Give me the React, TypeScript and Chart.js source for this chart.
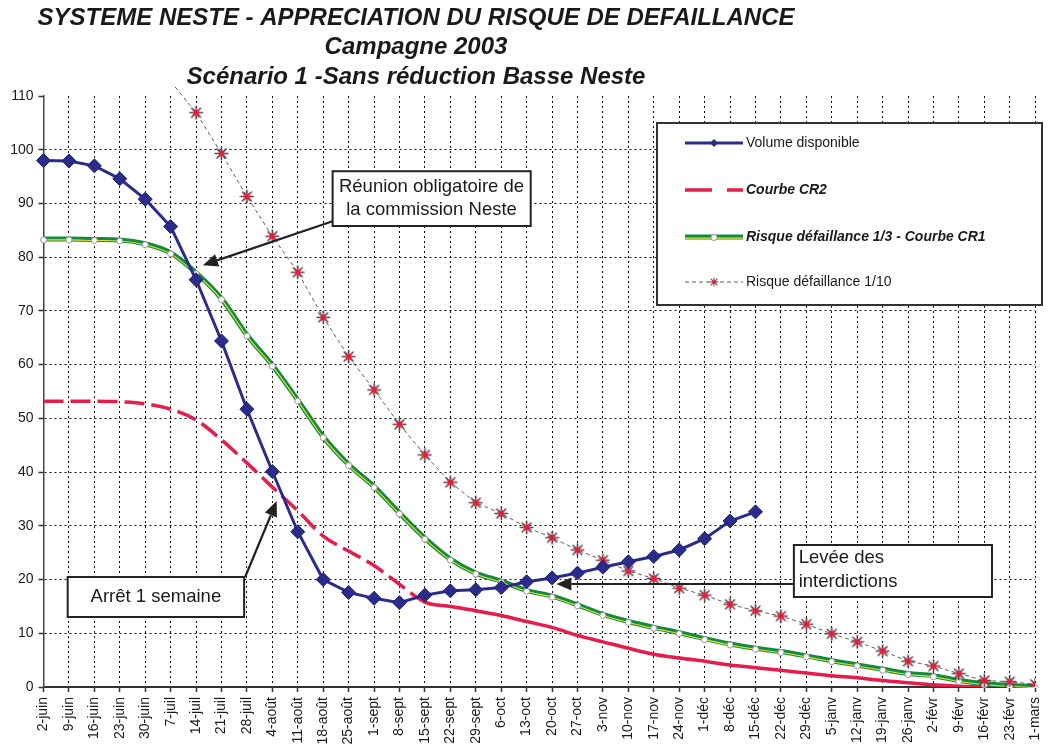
import React, { useEffect, useRef } from 'react';
import { Chart, registerables } from 'chart.js';

Chart.register(...registerables);

// ---------------- DATA ----------------
const categories = [
  '2-juin', '9-juin', '16-juin', '23-juin', '30-juin', '7-juil', '14-juil', '21-juil', '28-juil', '4-août',
  '11-août', '18-août', '25-août', '1-sept', '8-sept', '15-sept', '22-sept', '29-sept', '6-oct', '13-oct',
  '20-oct', '27-oct', '3-nov', '10-nov', '17-nov', '24-nov', '1-déc', '8-déc', '15-déc', '22-déc',
  '29-déc', '5-janv', '12-janv', '19-janv', '26-janv', '2-févr', '9-févr', '16-févr', '23-févr', '1-mars',
];

const volumeDisponible = [
  98.0, 97.9, 97.0, 94.6, 90.8, 85.7, 75.8, 64.4, 51.7, 40.1,
  28.9, 20.0, 17.6, 16.5, 15.7, 17.1, 17.9, 18.1, 18.5, 19.6,
  20.3, 21.2, 22.3, 23.3, 24.3, 25.5, 27.6, 30.9, 32.6, null,
  null, null, null, null, null, null, null, null, null, null,
];

const courbeCR2 = [
  53.2, 53.2, 53.2, 53.1, 52.7, 51.7, 49.7, 46.0, 41.7, 37.2,
  32.8, 28.1, 25.3, 22.6, 19.1, 15.8, 15.0, 14.2, 13.3, 12.2,
  11.1, 9.6, 8.4, 7.2, 6.1, 5.4, 4.8, 4.1, 3.6, 3.1,
  2.6, 2.1, 1.7, 1.2, 0.8, 0.4, 0.15, 0.05, 0, 0,
];

const courbeCR1 = [
  83.4, 83.4, 83.3, 83.2, 82.5, 80.8, 77.1, 72.3, 65.5, 59.9,
  53.4, 46.6, 41.4, 37.3, 32.4, 27.7, 23.8, 21.2, 19.7, 18.0,
  16.9, 15.3, 13.5, 12.2, 11.1, 10.1, 9.0, 8.0, 7.2, 6.6,
  5.8, 4.9, 4.1, 3.3, 2.5, 2.1, 1.2, 0.6, 0.3, 0.05,
];

const risque110 = [
  null, null, null, null, null, 112.7, 106.9, 99.3, 91.3, 83.9,
  77.2, 68.8, 61.5, 55.3, 48.9, 43.2, 38.1, 34.3, 32.3, 29.7,
  27.8, 25.5, 23.6, 21.6, 20.2, 18.4, 17.1, 15.4, 14.2, 13.2,
  11.7, 9.9, 8.4, 6.7, 4.8, 3.9, 2.5, 1.2, 1.0, 0.5,
];

const yMin = 0;
const yMax = 110;
const yStep = 10;

const seriesNames = [
  'Volume disponible',
  'Courbe CR2',
  'Risque défaillance 1/3 - Courbe CR1',
  'Risque défaillance 1/10',
];

const titleLines = [
  'SYSTEME NESTE - APPRECIATION DU RISQUE DE DEFAILLANCE',
  'Campagne 2003',
  'Scénario 1 -Sans réduction Basse Neste',
];

// annotations in data coordinates (category index, value)
const notes = [
  {
    lines: ['Réunion obligatoire de', 'la commission Neste'],
    box: [11.37, 96.0, 19.16, 85.8],
    textX: 15.26, textY: [93.0, 88.8], align: 'center',
    arrow: [11.37, 86.7, 6.27, 78.5],
  },
  {
    lines: ['Arrêt 1 semaine'],
    box: [0.95, 20.47, 7.89, 13.03],
    textX: 4.42, textY: [16.75], align: 'center',
    arrow: [7.93, 20.47, 9.17, 34.6],
  },
  {
    lines: ['Levée des', 'interdictions'],
    box: [29.51, 26.43, 37.3, 16.75],
    textX: 29.7, textY: [24.0, 19.55], align: 'left',
    arrow: [29.51, 19.17, 20.17, 19.17],
  },
];

// ---------------- STYLE ----------------
const FONT = '"Liberation Sans", Arial, Helvetica, sans-serif';
const BLUE = '#2b2b8c';
const RED = '#e61c4a';
const GREEN = '#138a3e';
const YELLOW = '#e6e23c';
const GRAY = '#5e5e5e';

function makeStar(): HTMLCanvasElement {
  const c = document.createElement('canvas');
  c.width = 15;
  c.height = 15;
  const g = c.getContext('2d')!;
  const cx = 7.5, cy = 7.5;
  const draw = (r: number, color: string, w: number) => {
    g.strokeStyle = color;
    g.lineWidth = w;
    g.lineCap = 'round';
    g.beginPath();
    for (let k = 0; k < 4; k++) {
      const a = (k * Math.PI) / 4;
      g.moveTo(cx - Math.cos(a) * r, cy - Math.sin(a) * r);
      g.lineTo(cx + Math.cos(a) * r, cy + Math.sin(a) * r);
    }
    g.stroke();
  };
  draw(6.3, '#54464e', 1.6);
  draw(3, '#e0203a', 1.7);
  return c;
}

function drawArrow(ctx: CanvasRenderingContext2D, x1: number, y1: number, x2: number, y2: number) {
  const ang = Math.atan2(y2 - y1, x2 - x1);
  const hl = 15, hw = 6.5;
  const bx = x2 - Math.cos(ang) * hl;
  const by = y2 - Math.sin(ang) * hl;
  ctx.save();
  ctx.strokeStyle = '#222';
  ctx.fillStyle = '#222';
  ctx.lineWidth = 2.2;
  ctx.beginPath();
  ctx.moveTo(x1, y1);
  ctx.lineTo(bx, by);
  ctx.stroke();
  ctx.beginPath();
  ctx.moveTo(x2, y2);
  ctx.lineTo(bx - Math.sin(ang) * hw, by + Math.cos(ang) * hw);
  ctx.lineTo(bx + Math.sin(ang) * hw, by - Math.cos(ang) * hw);
  ctx.closePath();
  ctx.fill();
  ctx.restore();
}

export default function App() {
  const ref = useRef<HTMLCanvasElement | null>(null);

  useEffect(() => {
    if (!ref.current) return;
    const star = makeStar();

    const titlePlugin = {
      id: 'customTitle',
      afterDraw(chart: any) {
        const ctx = chart.ctx as CanvasRenderingContext2D;
        ctx.save();
        ctx.fillStyle = '#1a1a1a';
        ctx.textAlign = 'center';
        ctx.textBaseline = 'middle';
        ctx.font = `italic bold 24px ${FONT}`;
        const ys = [18, 47, 77];
        titleLines.forEach((t, i) => ctx.fillText(t, 416, ys[i]));
        ctx.restore();
      },
    };

    const yellowShift = {
      id: 'yellowShift',
      beforeDatasetDraw(chart: any, args: any) {
        if (args.index === 2) {
          chart.ctx.save();
          chart.ctx.translate(0, 1.0);
        }
      },
      afterDatasetDraw(chart: any, args: any) {
        if (args.index === 2) chart.ctx.restore();
      },
    };

    const overlay = {
      id: 'overlay',
      afterDraw(chart: any) {
        const ctx = chart.ctx as CanvasRenderingContext2D;
        const xs = chart.scales.x;
        const ys = chart.scales.y;
        const X = (v: number) => xs.getPixelForValue(v);
        const Y = (v: number) => ys.getPixelForValue(v);

        // annotations
        notes.forEach((n) => {
          drawArrow(ctx, X(n.arrow[0]), Y(n.arrow[1]), X(n.arrow[2]), Y(n.arrow[3]));
          const l = X(n.box[0]), t = Y(n.box[1]), r = X(n.box[2]), b = Y(n.box[3]);
          ctx.save();
          ctx.fillStyle = '#fff';
          ctx.fillRect(l, t, r - l, b - t);
          ctx.strokeStyle = '#222';
          ctx.lineWidth = 2;
          ctx.strokeRect(l, t, r - l, b - t);
          ctx.fillStyle = '#1a1a1a';
          ctx.font = `18.5px ${FONT}`;
          ctx.textAlign = n.align as CanvasTextAlign;
          ctx.textBaseline = 'middle';
          n.lines.forEach((s, i) => ctx.fillText(s, X(n.textX), Y(n.textY[i])));
          ctx.restore();
        });

        // legend
        ctx.save();
        const L = 657, T = 123, R = 1042, B = 305;
        ctx.fillStyle = '#fff';
        ctx.fillRect(L, T, R - L, B - T);
        ctx.strokeStyle = '#333';
        ctx.lineWidth = 2;
        ctx.strokeRect(L, T, R - L, B - T);
        const rows = [143, 190, 237, 282];
        const sx1 = 685, sx2 = 743, sm = 714;
        // 1 Volume
        ctx.strokeStyle = BLUE;
        ctx.lineWidth = 3;
        ctx.beginPath(); ctx.moveTo(sx1, rows[0]); ctx.lineTo(sx2, rows[0]); ctx.stroke();
        ctx.fillStyle = BLUE;
        ctx.beginPath();
        ctx.moveTo(sm, rows[0] - 4); ctx.lineTo(sm + 4, rows[0]); ctx.lineTo(sm, rows[0] + 4); ctx.lineTo(sm - 4, rows[0]);
        ctx.closePath(); ctx.fill();
        // 2 CR2
        ctx.strokeStyle = RED;
        ctx.lineWidth = 3.5;
        ctx.beginPath(); ctx.moveTo(sx1, rows[1]); ctx.lineTo(712, rows[1]);
        ctx.moveTo(727, rows[1]); ctx.lineTo(sx2, rows[1]); ctx.stroke();
        // 3 CR1
        ctx.strokeStyle = GREEN;
        ctx.lineWidth = 5;
        ctx.beginPath(); ctx.moveTo(sx1, rows[2]); ctx.lineTo(sx2, rows[2]); ctx.stroke();
        ctx.strokeStyle = YELLOW;
        ctx.lineWidth = 1.2;
        ctx.beginPath(); ctx.moveTo(sx1, rows[2] + 1.2); ctx.lineTo(sx2, rows[2] + 1.2); ctx.stroke();
        ctx.fillStyle = '#fff';
        ctx.strokeStyle = '#999';
        ctx.lineWidth = 1;
        ctx.beginPath(); ctx.arc(sm, rows[2] + 0.5, 3, 0, Math.PI * 2); ctx.fill(); ctx.stroke();
        // 4 1/10
        ctx.strokeStyle = GRAY;
        ctx.lineWidth = 1;
        ctx.setLineDash([4, 3]);
        ctx.beginPath(); ctx.moveTo(sx1, rows[3]); ctx.lineTo(sx2, rows[3]); ctx.stroke();
        ctx.setLineDash([]);
        ctx.drawImage(star, sm - 5, rows[3] - 5, 10, 10);
        // texts
        ctx.fillStyle = '#1a1a1a';
        ctx.textAlign = 'left';
        ctx.textBaseline = 'middle';
        const fonts = [`14px ${FONT}`, `italic bold 14px ${FONT}`, `italic bold 14px ${FONT}`, `14px ${FONT}`];
        seriesNames.forEach((s, i) => {
          ctx.font = fonts[i];
          ctx.fillText(s, 746, rows[i]);
        });
        ctx.restore();
      },
    };

    const chart = new Chart(ref.current, {
      type: 'line',
      data: {
        labels: categories,
        datasets: [
          {
            label: seriesNames[0],
            data: volumeDisponible,
            borderColor: BLUE,
            backgroundColor: BLUE,
            borderWidth: 3,
            pointStyle: 'rectRot',
            pointRadius: 7,
            pointBackgroundColor: BLUE,
            pointBorderColor: '#1e1e70',
            pointBorderWidth: 1,
            spanGaps: false,
            order: 0,
          },
          {
            label: seriesNames[3],
            data: risque110,
            borderColor: GRAY,
            borderWidth: 1,
            borderDash: [4, 3],
            pointStyle: star,
            pointRadius: 6,
            order: 1,
            clip: { left: 0, top: 10, right: 0, bottom: 0 },
          },
          {
            label: 'cr1-inner',
            data: courbeCR1,
            borderColor: YELLOW,
            borderWidth: 1.1,
            pointStyle: 'circle',
            pointRadius: 3,
            pointBackgroundColor: '#ffffff',
            pointBorderColor: '#9a9a9a',
            pointBorderWidth: 1,
            cubicInterpolationMode: 'monotone',
            order: 2,
          },
          {
            label: seriesNames[2],
            data: courbeCR1,
            borderColor: GREEN,
            borderWidth: 5,
            pointRadius: 0,
            cubicInterpolationMode: 'monotone',
            order: 3,
          },
          {
            label: seriesNames[1],
            data: courbeCR2,
            borderColor: RED,
            borderWidth: 3.5,
            pointRadius: 0,
            cubicInterpolationMode: 'monotone',
            segment: {
              borderDash: (c: any) => (c.p1DataIndex <= 15 ? [20, 7] : undefined),
            },
            order: 4,
          },
        ] as any,
      },
      options: {
        responsive: false,
        animation: false,
        events: [],
        layout: { padding: { left: 0, right: 3, top: 96, bottom: 0 }, autoPadding: false } as any,
        plugins: {
          legend: { display: false },
          title: { display: false },
          tooltip: { enabled: false },
        },
        scales: {
          x: {
            type: 'category',
            offset: false,
            grid: {
              color: '#111',
              lineWidth: 1,
              drawTicks: true,
              tickLength: 5,
              tickColor: '#333',
              tickWidth: 1.5,
              tickBorderDash: [],
            } as any,
            border: { display: true, color: '#333', width: 2, dash: [2, 3] },
            ticks: {
              autoSkip: false,
              maxRotation: 90,
              minRotation: 90,
              padding: 5,
              color: '#1a1a1a',
              font: { size: 14, family: FONT },
            },
            afterFit: (s: any) => { s.height = 59; },
          },
          y: {
            min: yMin,
            max: yMax,
            grid: {
              color: (c: any) => (c.tick && c.tick.value === yMax ? 'rgba(0,0,0,0)' : '#111'),
              lineWidth: 1,
              drawTicks: true,
              tickLength: 5,
              tickColor: '#333',
              tickWidth: 1.5,
              tickBorderDash: [],
            } as any,
            border: { display: true, color: '#444', width: 1.5, dash: [2, 3] },
            ticks: {
              stepSize: yStep,
              padding: 5,
              color: '#1a1a1a',
              font: { size: 14, family: FONT },
            },
            afterFit: (s: any) => { s.width = 43.5; },
          },
        },
      },
      plugins: [yellowShift, titlePlugin, overlay],
    });

    return () => chart.destroy();
  }, []);

  return (
    <div style={{ position: 'fixed', left: 0, top: 0, width: 1057, height: 746, background: '#fff', overflow: 'hidden' }}>
      <canvas ref={ref} width={1057} height={746} style={{ display: 'block' }} />
    </div>
  );
}
